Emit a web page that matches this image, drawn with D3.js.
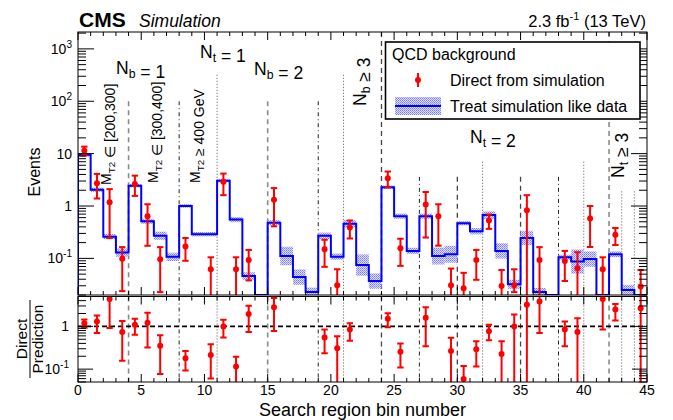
<!DOCTYPE html>
<html><head><meta charset="utf-8">
<script src="https://cdn.jsdelivr.net/npm/d3@7"></script>
<style>
body{margin:0;background:#fff}
text{font-family:"Liberation Sans",Arial,Helvetica,sans-serif;fill:#000}
</style></head>
<body><svg id="c" width="673" height="420"></svg>
<script>
// ---------------- data ----------------
const prediction = [9.5,2.04,0.26,0.129,2.44,0.51,0.27,0.107,1.0,0.29,0.29,3.05,0.55,0.046,0.012,0.48,
  0.111,0.044,0.0227,0.27,0.108,0.457,0.0745,0.037,2.27,0.64,0.139,0.64,0.111,0.12,0.47,0.33,0.67,0.139,
  0.032,0.245,0.0227,0.005,0.105,0.087,0.097,0.014,0.12,0.025,0.011];
const predRelErr = [0.08,0.1,0.12,0.2,0.08,0.12,0.2,0.2,0.08,0.1,0.1,0.08,0.12,0.18,0.3,0.12,
  0.5,0.4,0.22,0.15,0.15,0.18,0.6,0.4,0.08,0.12,0.15,0.12,0.45,0.45,0.1,0.15,0.18,0.4,
  0.22,0.37,0.2,0,0.12,0.7,0.4,0.3,0.14,0.25,0.3];
const direct = [11.3,2.71,1.18,0.098,2.63,0.64,0.096,null,0.168,null,0.062,2.91,0.062,0.093,null,1.31,
  null,null,null,0.15,0.0306,0.39,null,null,3.39,0.157,null,1.07,0.64,0.0306,0.027,0.093,0.53,0.0297,
  0.0306,0.83,0.093,null,0.089,0.065,0.575,0.062,0.284,null,0.029];
const directLo = [9.3,1.39,0.245,0.0237,1.56,0.174,0.0227,null,0.09,null,0.01,1.61,0.01,0.038,null,0.41,
  null,null,null,0.069,0.01,0.24,null,null,2.27,0.072,null,0.25,0.175,0.01,0.01,0.039,0.366,0.01,
  0.0227,0.01,0.01,null,0.037,0.01,0.165,0.01,0.18,null,0.01];
const directHi = [13.6,4.1,2.1,0.164,3.8,1.08,0.164,null,0.245,null,0.105,4.16,0.105,0.145,null,2.2,
  null,null,null,0.227,0.062,0.53,null,null,4.55,0.237,null,1.85,1.08,0.064,0.053,0.145,0.69,0.06,
  0.062,1.61,0.164,null,0.139,0.131,1.0,0.105,0.38,null,0.06];
const ratio = [1.19,1.30,4.36,0.74,1.09,1.22,0.35,null,0.18,null,0.214,1.0,0.115,1.96,null,2.79,
  null,null,null,0.55,0.31,0.84,null,null,1.5,0.255,null,1.59,null,0.265,0.059,0.29,0.77,0.226,
  1.0,3.22,3.84,null,0.85,0.74,null,4.36,2.47,null,2.65];
const ratioLo = [0.93,0.70,0.915,0.158,0.64,0.32,0.077,null,0.093,null,0.06,0.55,0.02,0.74,null,0.78,
  null,null,null,0.235,0.02,0.46,null,null,0.96,0.109,null,0.345,null,0.02,0.02,0.115,0.475,0.02,
  0.02,0.02,0.70,null,0.345,0.02,null,0.85,1.37,null,0.02];
const ratioHi = [1.45,1.79,8.1,1.33,1.5,2.07,0.62,null,0.265,null,0.38,1.43,0.195,3.05,null,4.6,
  null,null,null,0.85,0.59,1.19,null,null,2.03,0.40,null,2.79,null,0.54,0.119,0.45,1.09,0.45,
  1.89,6.6,7.2,null,1.3,1.55,null,7.5,3.34,null,5.5];

const dividerBins   = [4,8,11,15,19,21,24,27,30,32,35,38,40,42,43,44];
const dividerStyles = ['gdash','dashdot','dot','gdash','dashdot','dot','dash','dashdot','dash','dot','dash','dashdot','dot','gdash','dot','dot'];
const dividerTopVal = [100,100,320,100,100,320,2100,3.6,3.6,7,3.6,3.6,7,2100,1.9,1.9];

const xTickLabels = [0,5,10,15,20,25,30,35,40,45];
const topMajorTicks = [0.1,1,10,100,1000];
const ratioMajorTicks = [0.1,1];

// ---------------- setup ----------------
const svg = d3.select('#c');
const X0=78, X1=647, TY0=32, TY1=295, BY0=296.5, BY1=382;
const nb = prediction.length;
const bins = prediction.map((v,i)=>i);
const x = d3.scaleLinear().domain([0,nb]).range([X0,X1]);
const y = d3.scaleLog().domain([0.02,2100]).range([TY1,TY0]).clamp(true);
const yr = d3.scaleLog().domain([0.05,5]).range([BY1,BY0]).clamp(true);

const defs = svg.append('defs');
defs.append('clipPath').attr('id','ct').append('rect').attr('x',X0).attr('y',TY0).attr('width',X1-X0).attr('height',TY1-TY0);
defs.append('clipPath').attr('id','cb').append('rect').attr('x',X0).attr('y',BY0).attr('width',X1-X0).attr('height',BY1-BY0);
const pat = defs.append('pattern').attr('id','hatch').attr('width',2).attr('height',2).attr('patternUnits','userSpaceOnUse');
pat.append('rect').attr('width',2).attr('height',2).attr('fill','#dedeff');
pat.append('rect').attr('width',1).attr('height',1).attr('fill','#7a7aff');
pat.append('rect').attr('x',1).attr('y',1).attr('width',1).attr('height',1).attr('fill','#9a9aff');

const styleMap = {
  gdash:{stroke:'#8a8a8a',w:1.6,dash:'5,4'},
  dashdot:{stroke:'#222',w:1,dash:'4,3,1,3'},
  dot:{stroke:'#555',w:1,dash:'1,2'},
  dash:{stroke:'#444',w:1.3,dash:'5,4'}
};

// ---------------- dividers ----------------
const gDiv = svg.append('g');
dividerBins.forEach((b,i)=>{
  const s = styleMap[dividerStyles[i]];
  gDiv.append('line').attr('x1',x(b)).attr('x2',x(b)).attr('y1',y(dividerTopVal[i])).attr('y2',TY1)
    .attr('stroke',s.stroke).attr('stroke-width',s.w).attr('stroke-dasharray',s.dash);
  gDiv.append('line').attr('x1',x(b)).attr('x2',x(b)).attr('y1',BY0).attr('y2',BY1)
    .attr('stroke',s.stroke).attr('stroke-width',s.w).attr('stroke-dasharray',s.dash);
});

// ratio = 1 line
svg.append('line').attr('x1',X0).attr('x2',X1).attr('y1',yr(1)).attr('y2',yr(1))
  .attr('stroke','#000').attr('stroke-width',1.6).attr('stroke-dasharray','5,3');

// ---------------- prediction band + histogram ----------------
const gTop = svg.append('g').attr('clip-path','url(#ct)');
bins.forEach(i=>{
  const v = prediction[i], f = predRelErr[i];
  if (v*(1+f) <= y.domain()[0] || f===0) return;
  const hi = y(v*(1+f)), lo = y(v/(1+f));
  gTop.append('rect').attr('x',x(i)).attr('width',x(i+1)-x(i)).attr('y',hi).attr('height',Math.max(0,lo-hi))
    .attr('fill','url(#hatch)');
});
let pts = [[x(0),TY1]];
bins.forEach(i=>{ pts.push([x(i),y(prediction[i])]); pts.push([x(i+1),y(prediction[i])]); });
pts.push([x(nb),TY1]);
gTop.append('path').attr('d',d3.line()(pts)).attr('fill','none').attr('stroke','#0000ff').attr('stroke-width',2);

// ---------------- points ----------------
function drawPoints(g, scale, vals, lo, hi){
  const [dmin,dmax] = scale.domain();
  bins.forEach(i=>{
    const v = vals[i];
    if (v===null || v<dmin || v>dmax) return;
    const cx = x(i+0.5);
    g.append('line').attr('x1',cx).attr('x2',cx).attr('y1',scale(lo[i])).attr('y2',scale(hi[i]))
      .attr('stroke','#ff0000').attr('stroke-width',2);
    [lo[i],hi[i]].forEach(e=>{
      if (e>dmin && e<dmax) g.append('line').attr('x1',cx-3.2).attr('x2',cx+3.2).attr('y1',scale(e)).attr('y2',scale(e))
        .attr('stroke','#ff0000').attr('stroke-width',2);
    });
    g.append('circle').attr('cx',cx).attr('cy',scale(v)).attr('r',3).attr('fill','#ff0000');
  });
}
drawPoints(gTop, y, direct, directLo, directHi);
const gBot = svg.append('g').attr('clip-path','url(#cb)');
drawPoints(gBot, yr, ratio, ratioLo, ratioHi);

// ---------------- frames & ticks ----------------
const gAx = svg.append('g').attr('stroke','#000').attr('stroke-width',1);
[[TY0,TY1],[BY0,BY1]].forEach(([a,b])=>{
  gAx.append('rect').attr('x',X0).attr('y',a).attr('width',X1-X0).attr('height',b-a).attr('fill','none');
  for (let k=0;k<=nb;k++){
    const L = (k%5===0)?8:4;
    gAx.append('line').attr('x1',x(k)).attr('x2',x(k)).attr('y1',b).attr('y2',b-L);
    gAx.append('line').attr('x1',x(k)).attr('x2',x(k)).attr('y1',a).attr('y2',a+L);
  }
});
function logTicks(scale, majorLen, minorLen){
  const [d0,d1] = scale.domain();
  for (let e=-3;e<=4;e++){
    for (let m=1;m<=9;m++){
      const v = m*Math.pow(10,e);
      if (v<d0*0.999 || v>d1*1.001) continue;
      const L = m===1?majorLen:minorLen;
      gAx.append('line').attr('x1',X0).attr('x2',X0+L).attr('y1',scale(v)).attr('y2',scale(v));
      gAx.append('line').attr('x1',X1).attr('x2',X1-L).attr('y1',scale(v)).attr('y2',scale(v));
    }
  }
}
logTicks(y,16,8);
logTicks(yr,15,8);

// ---------------- labels ----------------
function pow10(g, xr, yb, v, fs){
  const e = Math.round(Math.log10(v));
  const t = g.append('text').attr('x',xr).attr('y',yb).attr('text-anchor','end').style('font-size',fs+'px');
  if (e===0) t.text('1');
  else if (e===1) t.text('10');
  else { t.append('tspan').text('10'); t.append('tspan').attr('dy',-6).style('font-size',(fs*0.72)+'px').text(e); }
}
const gL = svg.append('g');
topMajorTicks.forEach(v=>pow10(gL,72,y(v)+5,v,14));
ratioMajorTicks.forEach(v=>pow10(gL,69,yr(v)+5,v,14));
xTickLabels.forEach(v=>{
  gL.append('text').attr('x',x(v)).attr('y',395).attr('text-anchor','middle').style('font-size','14px').text(v);
});
gL.append('text').attr('x',(X0+X1)/2).attr('y',416).attr('text-anchor','middle').style('font-size','18px').text('Search region bin number');
gL.append('text').attr('transform','translate(40,172) rotate(-90)').attr('text-anchor','middle').style('font-size','16px').text('Events');
// ratio title (fraction)
const gR = gL.append('g').attr('transform','translate(0,339) rotate(-90)');
gR.append('text').attr('x',0).attr('y',27).attr('text-anchor','middle').style('font-size','15.5px').text('Direct');
gR.append('line').attr('x1',-39).attr('x2',39).attr('y1',30).attr('y2',30).attr('stroke','#000').attr('stroke-width',1);
gR.append('text').attr('x',0).attr('y',43).attr('text-anchor','middle').style('font-size','15.5px').text('Prediction');

// header
gL.append('text').attr('x',79).attr('y',27).style('font-size','21px').style('font-weight','bold').text('CMS');
gL.append('text').attr('x',139).attr('y',27).style('font-size','17.5px').style('font-style','italic').text('Simulation');
const lumi = gL.append('text').attr('x',646).attr('y',27).attr('text-anchor','end').style('font-size','16.5px');
lumi.append('tspan').text('2.3 fb');
lumi.append('tspan').attr('dy',-7).style('font-size','11px').text('-1');
lumi.append('tspan').attr('dy',7).text(' (13 TeV)');

// region annotations
function rich(g, xx, yy, parts, fs, rot){
  const t = g.append('text').style('font-size',fs+'px');
  if (rot) t.attr('transform',`translate(${xx},${yy}) rotate(-90)`); else t.attr('x',xx).attr('y',yy);
  parts.forEach(p=>{
    if (p.sub) { t.append('tspan').attr('dy',4).style('font-size',(fs*0.7)+'px').text(p.t); t.append('tspan').attr('dy',-4).text(''); }
    else t.append('tspan').text(p.t);
  });
}
const annFlat = [
  {x:116,y:74,parts:[{t:'N'},{t:'b',sub:1},{t:' = 1'}]},
  {x:200,y:58,parts:[{t:'N'},{t:'t',sub:1},{t:' = 1'}]},
  {x:254,y:75,parts:[{t:'N'},{t:'b',sub:1},{t:' = 2'}]},
  {x:470,y:143,parts:[{t:'N'},{t:'t',sub:1},{t:' = 2'}]}
];
annFlat.forEach(a=>rich(gL,a.x,a.y,a.parts,17.5,false));
const annRot = [
  {x:366,y:106,parts:[{t:'N'},{t:'b',sub:1},{t:' \u2265 3'}],fs:17.5},
  {x:624,y:178,parts:[{t:'N'},{t:'t',sub:1},{t:' \u2265 3'}],fs:17.5},
  {x:111,y:185,parts:[{t:'M'},{t:'T2',sub:1},{t:' \u2208 [200,300]'}],fs:14},
  {x:158,y:183,parts:[{t:'M'},{t:'T2',sub:1},{t:' \u2208 [300,400]'}],fs:14},
  {x:200,y:183,parts:[{t:'M'},{t:'T2',sub:1},{t:' \u2265 400 GeV'}],fs:14}
];
annRot.forEach(a=>rich(gL,a.x,a.y,a.parts,a.fs,true));

// legend
const gLeg = svg.append('g');
gLeg.append('rect').attr('x',385.5).attr('y',42).attr('width',254.5).attr('height',77).attr('fill','#fff').attr('stroke','#000').attr('stroke-width',1.6);
gLeg.append('text').attr('x',392).attr('y',60).style('font-size','16px').text('QCD background');
gLeg.append('line').attr('x1',418).attr('x2',418).attr('y1',73).attr('y2',87).attr('stroke','#ff0000').attr('stroke-width',2);
gLeg.append('circle').attr('cx',418).attr('cy',80).attr('r',3).attr('fill','#ff0000');
gLeg.append('text').attr('x',450).attr('y',86).style('font-size','16px').text('Direct from simulation');
gLeg.append('rect').attr('x',395).attr('y',97).attr('width',46).attr('height',18).attr('fill','url(#hatch)');
gLeg.append('line').attr('x1',395).attr('x2',441).attr('y1',106).attr('y2',106).attr('stroke','#0000ff').attr('stroke-width',2);
gLeg.append('text').attr('x',450).attr('y',112).style('font-size','16px').text('Treat simulation like data');
</script></body></html>
